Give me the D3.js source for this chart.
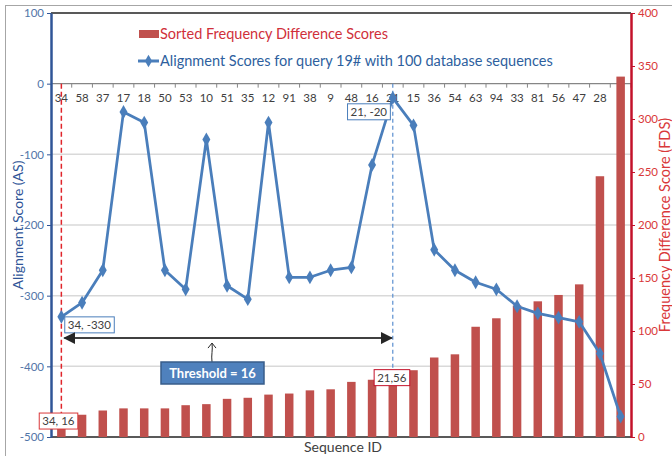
<!DOCTYPE html>
<html>
<head>
<meta charset="utf-8">
<script src="https://cdn.jsdelivr.net/npm/d3@7"></script>
<style>
  body { margin: 0; background: #fff; }
  text { font-family: Lato, "Open Sans", sans-serif; }
</style>
</head>
<body>
<svg id="chart" width="672" height="456"></svg>
<script>
// sequence ids along the x axis (the last one has no visible label)
var sequenceIds = ['34', '58', '37', '17', '18', '50', '53', '10', '51', '35', '12', '91', '38', '9',
  '48', '16', '21', '15', '36', '54', '63', '94', '33', '81', '56', '47', '28', '19']
var sequenceLabels = ['34', '58', '37', '17', '18', '50', '53', '10', '51', '35', '12', '91', '38', '9',
  '48', '16', '21', '15', '36', '54', '63', '94', '33', '81', '56', '47', '28', '']
// alignment scores (left axis)
var alignScores = [-330, -310, -264, -40, -55, -264, -291, -79, -286, -305, -55, -274, -274, -264,
  -260, -115, -20, -59, -235, -264, -281, -291, -315, -325, -331, -337, -382, -471]
// sorted frequency difference scores (right axis)
var fdsScores = [16, 21, 25, 27, 27, 27, 30, 31, 36, 37, 40, 41, 44, 45,
  52, 54, 56, 63, 75, 78, 104, 112, 124, 128, 134, 144, 246, 340]
var asTicks = [-500, -400, -300, -200, -100, 0, 100]
var fdsTicks = [0, 50, 100, 150, 200, 250, 300, 350, 400]
var thresholdId = '21'
var firstId = '34'

var pLeft = 51, pRight = 631, pTop = 13, pBottom = 437
var svg = d3.select('#chart')

var x = d3.scaleBand().domain(sequenceIds).range([pLeft, pRight])
var yL = d3.scaleLinear().domain([-500, 100]).range([pBottom, pTop])
var yR = d3.scaleLinear().domain([0, 400]).range([pBottom, pTop])
var cx = function (id) { return x(id) + x.bandwidth() / 2 }

// outer frame
svg.append('rect').attr('x', 5.5).attr('y', 5.5).attr('width', 700).attr('height', 500)
  .attr('fill', 'none').attr('stroke', '#a6a6a6')

// grid lines
svg.append('g').selectAll('line')
  .data(asTicks.filter(d => d < 0 && d > -500))
  .join('line')
  .attr('x1', pLeft).attr('x2', pRight)
  .attr('y1', d => yL(d)).attr('y2', d => yL(d))
  .attr('stroke', '#d9d9d9').attr('stroke-width', 1.5)

// top border & bottom line
svg.append('line').attr('x1', pLeft).attr('x2', pRight).attr('y1', pTop).attr('y2', pTop)
  .attr('stroke', '#595959').attr('stroke-width', 2)
svg.append('line').attr('x1', pLeft).attr('x2', pRight).attr('y1', pBottom).attr('y2', pBottom)
  .attr('stroke', '#595959').attr('stroke-width', 2)

// category axis at AS = 0
var catAxis = svg.append('g').attr('transform', 'translate(0,' + yL(0) + ')')
catAxis.append('line').attr('x1', pLeft).attr('x2', pRight).attr('stroke', '#868686').attr('stroke-width', 1.2)
catAxis.selectAll('.tk').data(sequenceIds.slice(1).concat(['end']))
  .join('line').attr('class', 'tk')
  .attr('x1', d => d === 'end' ? pRight : x(d)).attr('x2', d => d === 'end' ? pRight : x(d))
  .attr('y1', 0).attr('y2', 4).attr('stroke', '#868686')
catAxis.selectAll('text').data(sequenceIds).join('text')
  .attr('x', d => cx(d)).attr('y', 18)
  .attr('text-anchor', 'middle').attr('font-size', 11.5).attr('fill', '#404040')
  .text((d, i) => sequenceLabels[i])

// dashed markers
svg.append('line')
  .attr('x1', cx(firstId)).attr('x2', cx(firstId))
  .attr('y1', yL(0)).attr('y2', pBottom)
  .attr('stroke', '#e0252b').attr('stroke-width', 1.5).attr('stroke-dasharray', '5,3')
svg.append('line')
  .attr('x1', cx(thresholdId)).attr('x2', cx(thresholdId))
  .attr('y1', yL(0)).attr('y2', yR(38))
  .attr('stroke', '#5b8fd0').attr('stroke-width', 1.2).attr('stroke-dasharray', '4,3')

// bars
var barW = x.bandwidth() * 0.41
svg.append('g').selectAll('rect')
  .data(fdsScores)
  .join('rect')
  .attr('x', (d, i) => cx(sequenceIds[i]) - barW / 2)
  .attr('y', d => yR(d))
  .attr('width', barW)
  .attr('height', d => pBottom - yR(d))
  .attr('fill', '#c0504d')

// line + markers
var line = d3.line().x((d, i) => cx(sequenceIds[i])).y(d => yL(d))
svg.append('path').datum(alignScores)
  .attr('d', line).attr('fill', 'none')
  .attr('stroke', '#4a7ebb').attr('stroke-width', 2.75).attr('stroke-linejoin', 'round')
svg.append('g').selectAll('path')
  .data(alignScores)
  .join('path')
  .attr('d', d3.symbol().type(d3.symbolDiamond).size(55))
  .attr('transform', (d, i) => 'translate(' + cx(sequenceIds[i]) + ',' + yL(d) + ')')
  .attr('fill', '#4a7ebb')

// left axis
var axL = svg.append('g').attr('transform', 'translate(' + pLeft + ',0)')
  .call(d3.axisLeft(yL).tickValues(asTicks).tickFormat(d => String(d)).tickSize(4).tickSizeOuter(0))
axL.select('.domain').attr('stroke', '#2f5597').attr('stroke-width', 2.5)
axL.selectAll('.tick line').attr('stroke', '#2f5597')
axL.selectAll('.tick text').attr('fill', '#5276a8').attr('font-size', 11.5)
  .attr('font-family', 'Lato, sans-serif')

// right axis
var axR = svg.append('g').attr('transform', 'translate(' + pRight + ',0)')
  .call(d3.axisRight(yR).tickValues(fdsTicks).tickSize(4).tickSizeOuter(0))
axR.select('.domain').attr('stroke', '#c3122a').attr('stroke-width', 2.5)
axR.selectAll('.tick line').attr('stroke', '#c3122a')
axR.selectAll('.tick text').attr('fill', '#d9383a').attr('font-size', 11.5)
  .attr('font-family', 'Lato, sans-serif')

// axis titles
svg.append('text').attr('transform', 'translate(23,' + (pTop + pBottom) / 2 + ') rotate(-90)')
  .attr('text-anchor', 'middle').attr('font-size', 14).attr('fill', '#2f5597')
  .text('Alignment Score (AS)')
svg.append('text').attr('transform', 'translate(670,' + (pTop + pBottom) / 2 + ') rotate(-90)')
  .attr('text-anchor', 'middle').attr('font-size', 14.5).attr('fill', '#d9383a')
  .text('Frequency Difference Score (FDS)')
svg.append('text').attr('x', (pLeft + pRight) / 2 + 2).attr('y', 452)
  .attr('text-anchor', 'middle').attr('font-size', 14).attr('fill', '#404040')
  .text('Sequence ID')

// legend
var lg = svg.append('g')
lg.append('rect').attr('x', 139).attr('y', 30).attr('width', 20).attr('height', 8).attr('fill', '#c0504d')
lg.append('text').attr('x', 160).attr('y', 39).attr('font-size', 14.5).attr('fill', '#d0303a')
  .text('Sorted Frequency Difference Scores')
lg.append('line').attr('x1', 138).attr('x2', 159).attr('y1', 61).attr('y2', 61)
  .attr('stroke', '#4a7ebb').attr('stroke-width', 3)
lg.append('path').attr('d', d3.symbol().type(d3.symbolDiamond).size(45))
  .attr('transform', 'translate(148.5,61)').attr('fill', '#4a7ebb')
lg.append('text').attr('x', 160).attr('y', 66).attr('font-size', 14.5).attr('fill', '#2e5f9e')
  .text('Alignment Scores for query 19# with 100 database sequences')

// point labels
function callout (cxp, cyp, txt, color) {
  var g = svg.append('g')
  var t = g.append('text').attr('x', cxp).attr('y', cyp + 4).attr('text-anchor', 'middle')
    .attr('font-size', 11.5).attr('fill', '#404040').text(txt)
  var bb = t.node().getBBox()
  g.insert('rect', 'text').attr('x', bb.x - 3).attr('y', cyp - 8).attr('width', bb.width + 6).attr('height', 16)
    .attr('fill', '#fff').attr('stroke', color).attr('stroke-width', 1)
}
callout(cx(firstId) + 28, yL(-330) + 8, '34, -330', '#4a7ebb')
callout(cx(thresholdId) - 24, yL(-20) + 14, '21, -20', '#4a7ebb')
callout(cx(firstId) - 3, yR(16) + 1, '34, 16', '#d9383a')
callout(cx(thresholdId) - 1, yR(56), '21,56', '#c3122a')

// threshold double arrow
var defs = svg.append('defs')
defs.append('marker').attr('id', 'ah').attr('viewBox', '0 0 10 10').attr('refX', 9).attr('refY', 5)
  .attr('markerWidth', 6).attr('markerHeight', 6).attr('orient', 'auto-start-reverse')
  .append('path').attr('d', 'M0,0 L10,5 L0,10 z').attr('fill', '#262626')
var arrowY = yL(-360)
svg.append('line').attr('x1', cx(firstId) + 3).attr('x2', cx(thresholdId) - 1)
  .attr('y1', arrowY).attr('y2', arrowY)
  .attr('stroke', '#404040').attr('stroke-width', 2)
  .attr('marker-start', 'url(#ah)').attr('marker-end', 'url(#ah)')

// threshold box + pointer
var boxX = 161, boxY = 362
svg.append('path').attr('d', 'M212,' + boxY + ' C211,355 213,350 212,' + (arrowY + 5))
  .attr('fill', 'none').attr('stroke', '#262626').attr('stroke-width', 1)
svg.append('path').attr('d', 'M208,' + (arrowY + 10) + ' L212,' + (arrowY + 5) + ' L216,' + (arrowY + 10))
  .attr('fill', 'none').attr('stroke', '#262626').attr('stroke-width', 1)
svg.append('rect').attr('x', boxX).attr('y', boxY).attr('width', 103).attr('height', 22)
  .attr('fill', '#4f81bd').attr('stroke', '#385d8a').attr('stroke-width', 1.5)
svg.append('text').attr('x', boxX + 51.5).attr('y', boxY + 16).attr('text-anchor', 'middle')
  .attr('font-size', 13).attr('font-weight', 'bold').attr('fill', '#fff')
  .text('Threshold = 16')
</script>
</body>
</html>
